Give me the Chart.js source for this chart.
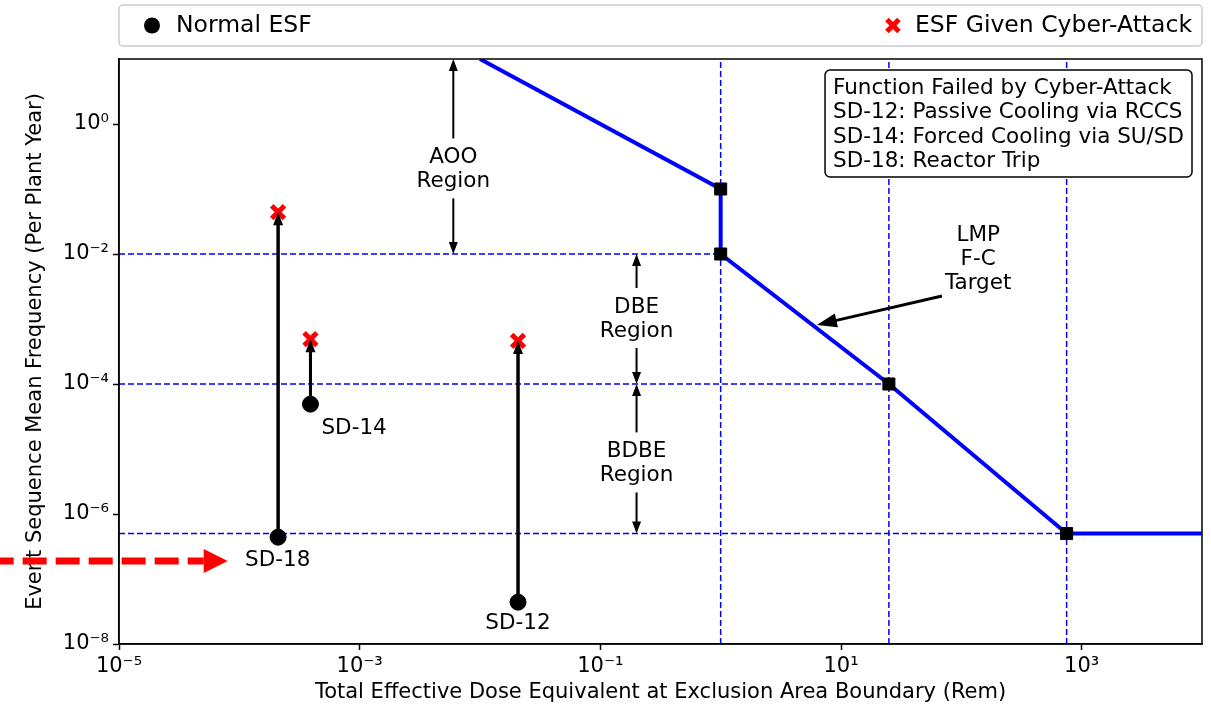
<!DOCTYPE html>
<html>
<head>
<meta charset="utf-8">
<script src="https://cdn.jsdelivr.net/npm/chart.js@4"></script>
<style>
  html, body { margin: 0; padding: 0; background: #fff; overflow: hidden; }
  canvas { display: block; }
</style>
</head>
<body>
<canvas id="myChart" width="1211" height="711"></canvas>
<script>
// event sequences: dose (rem) and frequency, normal vs cyber-attack
const sdNames = ['SD-18', 'SD-14', 'SD-12'];
const sdDose = [2.1e-4, 3.9e-4, 0.0207];
const normalFreq = [4.4e-7, 4.9e-5, 4.4e-8];
const attackFreq = [0.044, 4.9e-4, 4.6e-4];

// LMP frequency-consequence target
const targetDose = [0.01, 1, 1, 25, 750, 1e4];
const targetFreq = [10, 0.1, 0.01, 1e-4, 5e-7, 5e-7];

// dashed guide lines
const guideDose = [1, 25, 750];
const guideFreq = [0.01, 1e-4, 5e-7];

const xTicks = [1e-5, 1e-3, 1e-1, 1e1, 1e3];
const yTicks = [1e-8, 1e-6, 1e-4, 1e-2, 1];

const infoLines = [
  'Function Failed by Cyber-Attack',
  'SD-12: Passive Cooling via RCCS',
  'SD-14: Forced Cooling via SU/SD',
  'SD-18: Reactor Trip'
];

const FONT = '"DejaVu Sans", sans-serif';
const sup = {'-': '\u207B', '0': '\u2070', '1': '\u00B9', '2': '\u00B2', '3': '\u00B3',
  '4': '\u2074', '5': '\u2075', '6': '\u2076', '7': '\u2077', '8': '\u2078', '9': '\u2079'};
const powLabel = v => '10' + String(Math.round(Math.log10(v))).split('').map(c => sup[c]).join('');

function arrow(ctx, x1, y1, x2, y2, len, halfW, color, lw) {
  const a = Math.atan2(y2 - y1, x2 - x1);
  const bx = x2 - Math.cos(a) * len, by = y2 - Math.sin(a) * len;
  ctx.save();
  ctx.strokeStyle = color;
  ctx.fillStyle = color;
  ctx.lineWidth = lw;
  ctx.beginPath();
  ctx.moveTo(x1, y1);
  ctx.lineTo(bx + Math.cos(a) * 1, by + Math.sin(a) * 1);
  ctx.stroke();
  ctx.beginPath();
  ctx.moveTo(x2, y2);
  ctx.lineTo(bx - Math.sin(a) * halfW, by + Math.cos(a) * halfW);
  ctx.lineTo(bx + Math.sin(a) * halfW, by - Math.cos(a) * halfW);
  ctx.closePath();
  ctx.fill();
  ctx.restore();
}

const dashStyle = {
  showLine: true, borderColor: '#0000ff', borderWidth: 1.5, borderDash: [6, 3],
  pointRadius: 0, fill: false
};

const guides = [];
guideDose.forEach(d => guides.push(Object.assign({
  data: [{x: d, y: 1e-8}, {x: d, y: 10}]
}, dashStyle)));
guideFreq.forEach((f, i) => guides.push(Object.assign({
  data: [{x: 1e-5, y: f}, {x: guideDose[i], y: f}]
}, dashStyle)));

const connectors = sdNames.map((n, i) => ({
  data: [{x: sdDose[i], y: normalFreq[i]}, {x: sdDose[i], y: attackFreq[i]}],
  showLine: true, borderColor: '#000', borderWidth: 3, pointRadius: 0
}));

const extras = {
  id: 'extras',
  afterDatasetsDraw(chart) {
    const ctx = chart.ctx;
    const xs = chart.scales.x, ys = chart.scales.y;
    const area = chart.chartArea;
    const px = v => xs.getPixelForValue(v);
    const py = v => ys.getPixelForValue(v);

    // arrow heads on the normal -> attack lines
    sdNames.forEach((n, i) => {
      arrow(ctx, px(sdDose[i]), py(normalFreq[i]), px(sdDose[i]), py(attackFreq[i]), 13, 5, '#000', 3);
    });

    ctx.save();
    ctx.font = '21.5px ' + FONT;
    ctx.fillStyle = '#000';
    ctx.textBaseline = 'middle';

    // SD labels
    const offs = [[-33, 23, 'left'], [11, 24, 'left'], [0, 21, 'center']];
    sdNames.forEach((n, i) => {
      ctx.textAlign = offs[i][2];
      ctx.fillText(n, px(sdDose[i]) + offs[i][0], py(normalFreq[i]) + offs[i][1]);
    });

    // region annotations
    const regions = [
      {name: 'AOO', x: 0.006, top: 10, bottom: 0.01, mid: 0.2},
      {name: 'DBE', x: 0.2, top: 0.01, bottom: 1e-4, mid: 1e-3},
      {name: 'BDBE', x: 0.2, top: 1e-4, bottom: 5e-7, mid: 6e-6}
    ];
    ctx.textAlign = 'center';
    regions.forEach(r => {
      const x = px(r.x), m = py(r.mid);
      ctx.fillText(r.name, x, m - 12);
      ctx.fillText('Region', x, m + 12);
      arrow(ctx, x, m - 31, x, py(r.top), 12, 4.5, '#000', 2);
      arrow(ctx, x, m + 29, x, py(r.bottom), 12, 4.5, '#000', 2);
    });

    // LMP F-C target label
    const lx = px(138), ly = py(0.0083);
    ['LMP', 'F-C', 'Target'].forEach((t, k) => ctx.fillText(t, lx, ly + (k - 1) * 24));
    arrow(ctx, px(69), py(2.26e-3), px(6.3), py(8.1e-4), 20, 7, '#000', 3);

    // info box
    const lineH = 24.5;
    let w = 0;
    infoLines.forEach(t => { w = Math.max(w, ctx.measureText(t).width); });
    const bw = w + 16, bh = infoLines.length * lineH + 9;
    const bx = area.right - 10 - bw, by = area.top + 11;
    ctx.beginPath();
    ctx.roundRect(bx, by, bw, bh, 5);
    ctx.fillStyle = '#fff';
    ctx.fill();
    ctx.lineWidth = 1.5;
    ctx.strokeStyle = '#000';
    ctx.stroke();
    ctx.fillStyle = '#000';
    ctx.textAlign = 'left';
    infoLines.forEach((t, k) => ctx.fillText(t, bx + 8, by + 5 + lineH * (k + 0.5) + 1));

    // frame
    ctx.lineWidth = 1.5;
    ctx.strokeRect(area.left, area.top, area.right - area.left, area.bottom - area.top);
    ctx.restore();
  },
  afterDraw(chart) {
    const ctx = chart.ctx;
    const xs = chart.scales.x, ys = chart.scales.y;
    const area = chart.chartArea;

    // legend
    ctx.save();
    ctx.beginPath();
    ctx.roundRect(area.left, 5, area.right - area.left, 41, 4);
    ctx.fillStyle = '#fff';
    ctx.fill();
    ctx.strokeStyle = '#cccccc';
    ctx.lineWidth = 1.5;
    ctx.stroke();
    ctx.font = '23.5px ' + FONT;
    ctx.textBaseline = 'middle';
    ctx.fillStyle = '#000';
    ctx.beginPath();
    ctx.arc(area.left + 33, 25.5, 8, 0, Math.PI * 2);
    ctx.fill();
    ctx.textAlign = 'left';
    ctx.fillText('Normal ESF', area.left + 57, 26);
    const rt = 'ESF Given Cyber-Attack';
    ctx.textAlign = 'right';
    ctx.fillText(rt, area.right - 10, 26);
    const tw = ctx.measureText(rt).width;
    const mx = area.right - 10 - tw - 22;
    ctx.strokeStyle = '#ff0000';
    ctx.lineWidth = 5;
    ctx.beginPath();
    ctx.moveTo(mx - 6, 19.5); ctx.lineTo(mx + 6, 31.5);
    ctx.moveTo(mx + 6, 19.5); ctx.lineTo(mx - 6, 31.5);
    ctx.stroke();

    // red dashed arrow pointing at SD-18
    const ay = ys.getPixelForValue(1.9e-7);
    const tip = xs.getPixelForValue(8e-5);
    ctx.strokeStyle = '#ff0000';
    ctx.fillStyle = '#ff0000';
    ctx.lineWidth = 7;
    ctx.setLineDash([24, 9]);
    ctx.lineDashOffset = 9;
    ctx.beginPath();
    ctx.moveTo(xs.getPixelForValue(1e-6), ay);
    ctx.lineTo(tip - 24, ay);
    ctx.stroke();
    ctx.setLineDash([]);
    ctx.beginPath();
    ctx.moveTo(tip, ay);
    ctx.lineTo(tip - 24, ay - 12);
    ctx.lineTo(tip - 24, ay + 12);
    ctx.closePath();
    ctx.fill();
    ctx.restore();
  }
};

const ctx = document.getElementById('myChart').getContext('2d');
const chart = new Chart(ctx, {
  type: 'scatter',
  data: {
    datasets: [
      {
        label: 'ESF Given Cyber-Attack',
        data: sdDose.map((x, i) => ({x: x, y: attackFreq[i]})),
        pointStyle: 'crossRot', pointRadius: 9, borderColor: '#ff0000', borderWidth: 5
      },
      {
        label: 'Normal ESF',
        data: sdDose.map((x, i) => ({x: x, y: normalFreq[i]})),
        pointStyle: 'circle', pointRadius: 8, backgroundColor: '#000', borderColor: '#000', borderWidth: 1
      },
      ...connectors,
      {
        label: 'LMP F-C Target',
        data: targetDose.map((x, i) => ({x: x, y: targetFreq[i]})),
        showLine: true, borderColor: '#0000ff', borderWidth: 4,
        pointStyle: 'rect',
        pointRadius: c => (c.dataIndex === 0 || c.dataIndex === targetDose.length - 1) ? 0 : 8.5,
        pointBackgroundColor: '#000', pointBorderColor: '#000', pointBorderWidth: 1
      },
      ...guides
    ]
  },
  options: {
    responsive: false,
    animation: false,
    events: [],
    layout: { autoPadding: false, padding: { top: 59, right: 9, left: 0, bottom: 0 } },
    plugins: { legend: { display: false }, tooltip: { enabled: false } },
    scales: {
      x: {
        type: 'logarithmic',
        min: 1e-5, max: 1e4,
        afterBuildTicks: s => { s.ticks = xTicks.map(v => ({value: v})); },
        afterFit: s => { s.height = 67; s.paddingRight = 0; s.paddingLeft = 0; },
        ticks: {
          autoSkip: false, maxRotation: 0, padding: 4, color: '#000',
          font: { family: FONT, size: 21 },
          callback: v => powLabel(v)
        },
        grid: { drawOnChartArea: false, drawTicks: true, tickLength: 6, tickColor: '#000', tickWidth: 1.5 },
        border: { display: true, color: '#000', width: 1.5 },
        title: {
          display: true, color: '#000',
          text: 'Total Effective Dose Equivalent at Exclusion Area Boundary (Rem)',
          font: { family: FONT, size: 21 },
          padding: { top: 0, bottom: 6 }
        }
      },
      y: {
        type: 'logarithmic',
        min: 1e-8, max: 10,
        afterBuildTicks: s => { s.ticks = yTicks.map(v => ({value: v})); },
        afterFit: s => { s.width = 119; s.paddingTop = 0; s.paddingBottom = 0; },
        ticks: {
          autoSkip: false, padding: 4, color: '#000',
          font: { family: FONT, size: 21 },
          callback: v => powLabel(v)
        },
        grid: { drawOnChartArea: false, drawTicks: true, tickLength: 6, tickColor: '#000', tickWidth: 1.5 },
        border: { display: true, color: '#000', width: 1.5 },
        title: {
          display: true, color: '#000',
          text: 'Event Sequence Mean Frequency (Per Plant Year)',
          font: { family: FONT, size: 21 },
          padding: { top: 23, bottom: 0 }
        }
      }
    }
  },
  plugins: [extras]
});
</script>
</body>
</html>
